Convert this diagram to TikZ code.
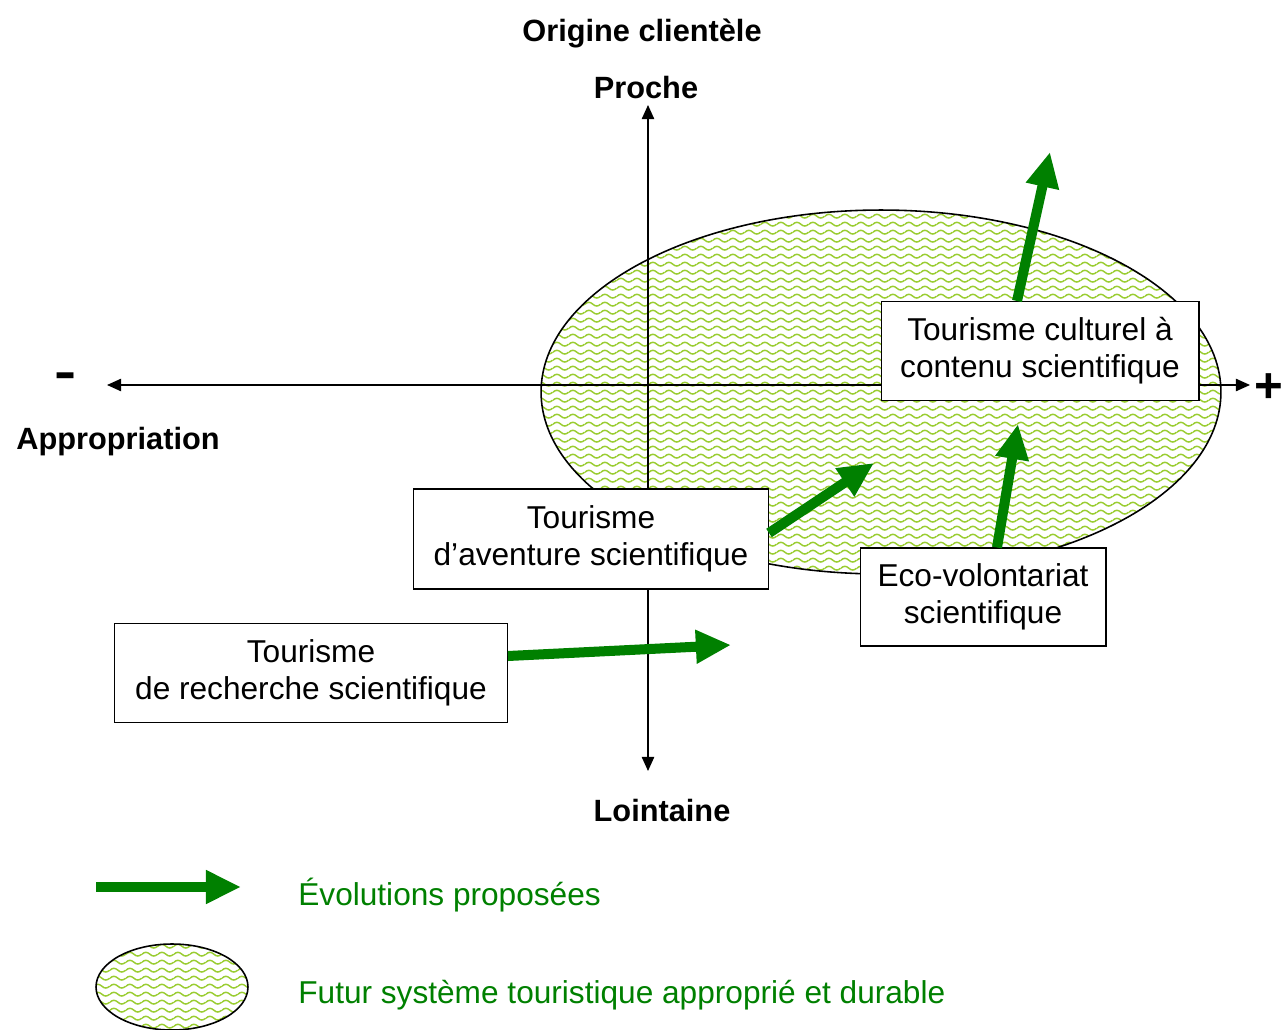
\documentclass[tikz,border=0pt]{standalone}
\usepackage{fontspec}
\setmainfont{Liberation Sans}
\usetikzlibrary{arrows.meta,patterns}
\definecolor{vertfleche}{HTML}{008000}
\definecolor{vertzone}{HTML}{9ACD32}
\pgfdeclarepatternformonly{vagues}{\pgfpoint{0pt}{0pt}}{\pgfpoint{9pt}{4.5pt}}{\pgfpoint{9pt}{4.5pt}}{
	\pgfsetlinewidth{0.85pt}
	\pgfpathmoveto{\pgfpoint{0pt}{2.2pt}}
	\pgfpathcurveto{\pgfpoint{1.5pt}{3.6pt}}{\pgfpoint{3pt}{3.6pt}}{\pgfpoint{4.5pt}{2.2pt}}
	\pgfpathcurveto{\pgfpoint{6pt}{0.8pt}}{\pgfpoint{7.5pt}{0.8pt}}{\pgfpoint{9pt}{2.2pt}}
	\pgfusepath{stroke}
}

\begin{document}
\begin{tikzpicture}[x=0.02cm,y=-0.02cm,font=\fontsize{18}{21}\selectfont,
	boite/.style={draw,fill=white,align=center,line width=0.6pt,inner sep=2pt},
	titre/.style={font=\fontsize{17.5}{21}\selectfont\bfseries},
	signe/.style={font=\fontsize{28}{30}\selectfont\bfseries},
	axe/.style={{Triangle[length=8pt,width=7pt]}-{Triangle[length=8pt,width=7pt]},line width=0.85pt},
	evol/.style={-{Triangle[length=20pt,width=18pt]},line width=5.7pt,draw=vertfleche},
	zone/.style={draw,line width=0.9pt,pattern=vagues,pattern color=vertzone},
	legende/.style={anchor=west,inner sep=0pt,text=vertfleche}]
	\useasboundingbox (0,0) rectangle (1281,1030);

	% zone future
	\draw[zone] (881,392) ellipse [x radius=6.8cm, y radius=3.64cm];

	% axes
	\coordinate (haut) at (648,105);
	\coordinate (bas) at (648,771);
	\coordinate (gauche) at (107,385);
	\coordinate (droite) at (1250,385);
	\draw[axe] (haut) -- (bas);
	\draw[axe] (gauche) -- (droite);

	\node[titre] (origine) at (642,33) {Origine clientèle};
	\node[titre] (proche) at (646,88) {Proche};
	\node[titre] (lointaine) at (662,811) {Lointaine};
	\node[signe,xscale=1.35] (moins) at (66,381) {-};
	\node[signe] (plus) at (1269,388) {+};
	\node[titre] (approp) at (118,442) {Appropriation};

	% formes de tourisme
	\node[boite,minimum width=6.36cm,minimum height=1.98cm] (culturel) at (1040,351) {Tourisme culturel à\\contenu scientifique};
	\node[boite,minimum width=7.1cm,minimum height=2cm] (aventure) at (591,539) {Tourisme\\d’aventure scientifique};
	\node[boite,minimum width=4.92cm,minimum height=1.96cm] (volontariat) at (983,597) {Eco-volontariat\\scientifique};
	\node[boite,minimum width=7.86cm,minimum height=1.98cm] (recherche) at (311,673) {Tourisme\\de recherche scientifique};

	% evolutions
	\coordinate (c1) at (1050,152);
	\coordinate (c2) at (874,463);
	\coordinate (c3) at (1018,424);
	\coordinate (c4) at (731,645);
	\draw[evol] ([xshift=-0.46cm]culturel.north) -- (c1);
	\draw[evol] ([yshift=0.12cm]aventure.east) -- (c2);
	\draw[evol] ([xshift=0.28cm]volontariat.north) -- (c3);
	\draw[evol] ([yshift=0.34cm]recherche.east) -- (c4);

	% legende
	\coordinate (l1) at (96,887);
	\coordinate (l2) at (241,887);
	\draw[evol] (l1) -- (l2);
	\node[legende] (legevol) at (298,895) {Évolutions proposées};
	\draw[zone] (172,987) ellipse [x radius=1.52cm, y radius=0.86cm];
	\node[legende] (legzone) at (298,995) {Futur système touristique approprié et durable};
\end{tikzpicture}
\end{document}
